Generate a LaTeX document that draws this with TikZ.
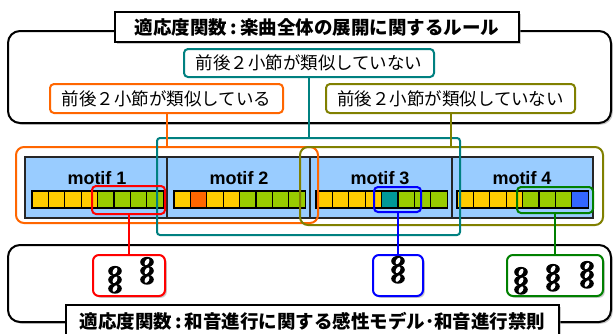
\documentclass[tikz,border=0pt]{standalone}
\usepackage{fontspec}
\setmainfont{Liberation Sans}
\newfontfamily\jp{Noto Sans CJK JP}
\usetikzlibrary{shadows}
\definecolor{corange}{RGB}{255,102,0}
\definecolor{cteal}{RGB}{0,128,128}
\definecolor{colive}{RGB}{128,128,0}
\definecolor{cred}{RGB}{255,0,0}
\definecolor{cblue}{RGB}{0,0,255}
\definecolor{cgreen}{RGB}{0,128,0}
\definecolor{barblue}{RGB}{153,204,255}
\definecolor{sqY}{RGB}{255,204,0}
\definecolor{sqG}{RGB}{153,204,0}
\definecolor{sqO}{RGB}{255,102,0}
\definecolor{sqT}{RGB}{0,153,153}
\definecolor{sqB}{RGB}{51,102,255}
\tikzset{
 sh/.style={drop shadow={shadow xshift=1.8pt, shadow yshift=-1.8pt, fill=black!40}},
 base/.style={rectangle, inner sep=0pt, outer sep=0pt},
 bigframe/.style={base, draw=black, line width=2pt, rounded corners=12pt, fill=white, sh},
 titlebox/.style={base, draw=black, line width=1.6pt, fill=white, sh, font=\jp\bfseries\fontsize{18.5}{20}\selectfont},
 lbl/.style={base, draw=#1, line width=2pt, rounded corners=4pt, fill=white, font=\jp\fontsize{17.5}{19}\selectfont},
 grp/.style={base, draw=#1, line width=2pt, rounded corners=8pt},
 motifbox/.style={base, draw=black!85, line width=1.2pt, fill=barblue},
 selbox/.style={base, draw=#1, line width=2pt, rounded corners=4pt},
 chordbox/.style={base, draw=#1, line width=2pt, rounded corners=6pt, fill=white, sh},
 link/.style={draw=#1, line width=2pt},
 motiflbl/.style={base, font=\bfseries\fontsize{18}{20}\selectfont},
 sq/.style={draw=black, line width=1.2pt},
 whead/.pic={\fill[black] (0,0) ellipse [x radius=6.8, y radius=5.1];
             \fill[white] (0,0) ellipse [x radius=2.0, y radius=3.6, rotate=-30];}
}
\newcommand\mychord[2]{\foreach \k in {0,1,2}{\pic at (#1,{#2+8.8*\k}) {whead};}}
\newcommand\mysquares[2]{%
  \foreach \c [count=\i from 0] in {#2}{%
    \filldraw[sq, fill=\c] ({#1+16.4*\i},191) rectangle ({#1+16.4*(\i+1)},208);}}
\begin{document}
\begin{tikzpicture}[x=1pt,y=-1pt]
\useasboundingbox (0,0) rectangle (613,333);
\clip (0,0) rectangle (613,333);
\fill[white] (0,0) rectangle (613,333);
% top frame
\node[bigframe, minimum width=603pt, minimum height=92pt] (topframe) at (309.5,77) {};
\node[titlebox, minimum width=404pt, minimum height=30pt] (toptitle) at (317,27) {適応度関数\,:\,楽曲全体の展開に関するルール};
\node[lbl=cteal, minimum width=250pt, minimum height=28pt] (lblT) at (309,63) {前後２小節が類似していない};
\node[lbl=corange, minimum width=233pt, minimum height=29pt] (lblO) at (166.5,98.5) {前後２小節が類似している};
\node[lbl=colive, minimum width=249pt, minimum height=29pt] (lblL) at (450.5,98.5) {前後２小節が類似していない};
% bottom frame
\node[bigframe, minimum width=603pt, minimum height=77pt] (botframe) at (309.5,283.5) {};
\node[titlebox, minimum width=493pt, minimum height=32pt] (bottitle) at (312.5,321) {適応度関数\,:\,和音進行に関する感性モデル･和音進行禁則};
% motifs
\node[motifbox, minimum width=142pt, minimum height=61pt] (m1) at (96,187.5) {};
\node[motifbox, minimum width=143pt, minimum height=61pt] (m2) at (238.5,187.5) {};
\node[motifbox, minimum width=142pt, minimum height=61pt] (m3) at (381,187.5) {};
\node[motifbox, minimum width=141pt, minimum height=61pt] (m4) at (522.5,187.5) {};
\draw[black!85, line width=1.5pt] (m1.north west) rectangle (m4.south east);
\node[motiflbl] (t1) at (97,178) {motif 1};
\node[motiflbl] (t2) at (239,178) {motif 2};
\node[motiflbl] (t3) at (380,178) {motif 3};
\node[motiflbl] (t4) at (522,178) {motif 4};
\mysquares{32}{sqY,sqY,sqY,sqY,sqG,sqG,sqG,sqG}
\mysquares{174}{sqY,sqO,sqY,sqY,sqG,sqG,sqG,sqG}
\mysquares{316}{sqY,sqY,sqY,sqY,sqT,sqG,sqG,sqG}
\mysquares{457}{sqY,sqY,sqY,sqY,sqG,sqG,sqG,sqB}
% groups
\node[grp=corange, minimum width=302pt, minimum height=76pt] (grpO) at (167,185) {};
\node[grp=colive, minimum width=303pt, minimum height=78pt] (grpL) at (451.5,186) {};
\node[grp=cteal, rounded corners=3pt, minimum width=303pt, minimum height=97pt] (grpT) at (308.5,186.5) {};
% selections
\node[selbox=cred, minimum width=73pt, minimum height=28pt] (selR) at (128.5,200) {};
\node[selbox=cblue, minimum width=47pt, minimum height=25pt] (selB) at (397.5,199.5) {};
\node[selbox=cgreen, minimum width=76pt, minimum height=26pt] (selG) at (555,200) {};
% chord boxes
\node[chordbox=cred, minimum width=72pt, minimum height=41pt] (chR) at (129,275.5) {};
\node[chordbox=cblue, minimum width=50pt, minimum height=41pt] (chB) at (398,275.5) {};
\node[chordbox=cgreen, minimum width=96pt, minimum height=41pt] (chG) at (555,275.5) {};
\mychord{115}{271}
\mychord{147}{262}
\mychord{398}{261}
\mychord{521}{272}
\mychord{553}{269}
\mychord{587}{266}
% connectors
\draw[link=corange] (lblO.south) -- (lblO.south |- grpO.north);
\draw[link=cteal] (lblT.south) -- (lblT.south |- grpT.north);
\draw[link=colive] (lblL.south) -- (lblL.south |- grpL.north);
\draw[link=cred] (selR.south) -- (selR.south |- chR.north);
\draw[link=cblue] (selB.south) -- (selB.south |- chB.north);
\draw[link=cgreen] (selG.south) -- (selG.south |- chG.north);
\end{tikzpicture}
\end{document}
